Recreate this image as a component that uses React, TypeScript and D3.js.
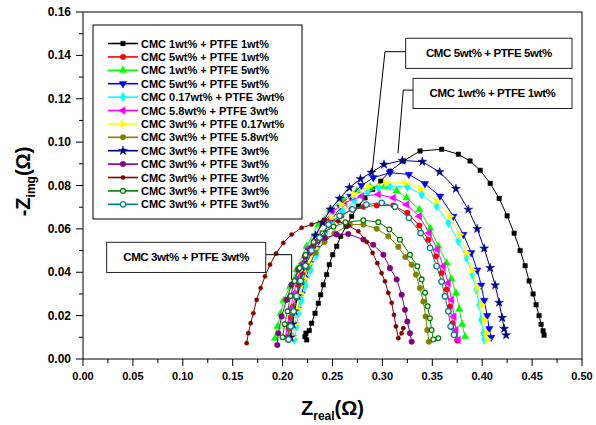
import React, { useEffect, useRef } from 'react';
import * as d3 from 'd3';

type Pt = [number, number];

const xTicks = [0, 0.05, 0.1, 0.15, 0.2, 0.25, 0.3, 0.35, 0.4, 0.45, 0.5];
const yTicks = [0, 0.02, 0.04, 0.06, 0.08, 0.1, 0.12, 0.14, 0.16];

const seriesNames = [
  'CMC 1wt% + PTFE 1wt%',
  'CMC 5wt% + PTFE 1wt%',
  'CMC 1wt% + PTFE 5wt%',
  'CMC 5wt% + PTFE 5wt%',
  'CMC 0.17wt% + PTFE 3wt%',
  'CMC 5.8wt% + PTFE 3wt%',
  'CMC 3wt% + PTFE 0.17wt%',
  'CMC 3wt% + PTFE 5.8wt%',
  'CMC 3wt% + PTFE 3wt%',
  'CMC 3wt% + PTFE 3wt%',
  'CMC 3wt% + PTFE 3wt%',
  'CMC 3wt% + PTFE 3wt%',
  'CMC 3wt% + PTFE 3wt%',
];

const seriesColors = [
  '#000000', '#ff0000', '#00ff00', '#0000ff', '#00ffff', '#ff00ff', '#ffff00',
  '#808000', '#000080', '#800080', '#800000', '#008000', '#008080',
];

// marker kind per series
const seriesMarkers = [
  'square', 'circle', 'up', 'down', 'diamond', 'left', 'right',
  'circle', 'star', 'circle', 'smallCircle', 'open', 'openBig',
];

const black1_1: Pt[] = [
  [0.2241, 0.0088], [0.2224, 0.0103], [0.2234, 0.0119], [0.2267, 0.0131], [0.2291, 0.0165],
  [0.2325, 0.0211], [0.2358, 0.0257], [0.2381, 0.0296], [0.2408, 0.0342], [0.2441, 0.0389],
  [0.2468, 0.0435], [0.2502, 0.0481], [0.2542, 0.052], [0.2582, 0.0566], [0.2635, 0.0612],
  [0.2692, 0.0658], [0.2759, 0.0705], [0.2826, 0.0743], [0.2903, 0.0782], [0.2983, 0.082],
  [0.3076, 0.0866], [0.321, 0.0913], [0.3377, 0.0959], [0.3594, 0.0967], [0.3761, 0.0944],
  [0.3878, 0.0913], [0.398, 0.087], [0.408, 0.081], [0.417, 0.074], [0.425, 0.066],
  [0.432, 0.058], [0.438, 0.05], [0.443, 0.043], [0.447, 0.036], [0.451, 0.03],
  [0.454, 0.025], [0.457, 0.02], [0.459, 0.016], [0.461, 0.013], [0.462, 0.011],
];

const red5_1: Pt[] = [
  [0.205, 0.01], [0.206, 0.014], [0.208, 0.019], [0.21, 0.024], [0.213, 0.029],
  [0.216, 0.034], [0.22, 0.039], [0.224, 0.044], [0.229, 0.049], [0.235, 0.054],
  [0.242, 0.058], [0.25, 0.062], [0.259, 0.066], [0.269, 0.069], [0.281, 0.0702],
  [0.2943, 0.0708], [0.3109, 0.0708], [0.325, 0.0674], [0.337, 0.0615], [0.346, 0.055],
  [0.3537, 0.0474], [0.3594, 0.0397], [0.3644, 0.032], [0.3677, 0.0242], [0.3704, 0.0165],
  [0.3727, 0.0111], [0.375, 0.0085],
];

const green1_5: Pt[] = [
  [0.1924, 0.0096], [0.195, 0.015], [0.198, 0.021], [0.201, 0.027], [0.2074, 0.0335],
  [0.214, 0.0412], [0.2241, 0.052], [0.2358, 0.062], [0.2475, 0.069], [0.2608, 0.0735],
  [0.2745, 0.0775], [0.2876, 0.0794], [0.302, 0.0795], [0.3143, 0.0775], [0.3243, 0.0743],
  [0.337, 0.0689], [0.3477, 0.0604], [0.356, 0.052], [0.3643, 0.0443], [0.369, 0.037],
  [0.3737, 0.0304], [0.377, 0.023], [0.38, 0.016], [0.3828, 0.0103],
];

const blue5_5: Pt[] = [
  [0.21, 0.01], [0.212, 0.016], [0.215, 0.023], [0.219, 0.03], [0.223, 0.037],
  [0.228, 0.044], [0.234, 0.051], [0.241, 0.058], [0.249, 0.064], [0.258, 0.07],
  [0.268, 0.075], [0.279, 0.08], [0.2909, 0.0836], [0.3075, 0.0859], [0.3265, 0.0851],
  [0.3426, 0.0808], [0.3577, 0.0751], [0.3711, 0.0658], [0.3811, 0.0574], [0.389, 0.049],
  [0.395, 0.041], [0.399, 0.034], [0.402, 0.027], [0.405, 0.02], [0.407, 0.014], [0.409, 0.01],
];

const cyan017_3: Pt[] = [
  [0.212, 0.009], [0.214, 0.015], [0.216, 0.021], [0.219, 0.027], [0.223, 0.034],
  [0.228, 0.041], [0.234, 0.048], [0.241, 0.055], [0.25, 0.062], [0.26, 0.068],
  [0.272, 0.073], [0.285, 0.077], [0.296, 0.079], [0.3075, 0.0797], [0.325, 0.0794],
  [0.3393, 0.0759], [0.3543, 0.0705], [0.3661, 0.0628], [0.3761, 0.0543], [0.3844, 0.0466],
  [0.39, 0.039], [0.394, 0.032], [0.397, 0.025], [0.399, 0.018], [0.401, 0.012], [0.402, 0.009],
];

const magenta58_3: Pt[] = [
  [0.203, 0.01], [0.205, 0.016], [0.208, 0.023], [0.211, 0.03], [0.215, 0.037],
  [0.22, 0.044], [0.226, 0.051], [0.233, 0.057], [0.241, 0.063], [0.25, 0.068],
  [0.262, 0.072], [0.2792, 0.0751], [0.2959, 0.0759], [0.3109, 0.0743], [0.3243, 0.0712],
  [0.337, 0.0658], [0.347, 0.0581], [0.355, 0.0505], [0.361, 0.0428], [0.366, 0.035],
  [0.3694, 0.0273], [0.3717, 0.0196], [0.3737, 0.0134], [0.376, 0.0088],
];

const yellow3_017: Pt[] = [
  [0.21, 0.01], [0.212, 0.016], [0.215, 0.023], [0.218, 0.03], [0.222, 0.037],
  [0.227, 0.044], [0.233, 0.051], [0.24, 0.058], [0.249, 0.065], [0.259, 0.071],
  [0.271, 0.076], [0.286, 0.0795], [0.3043, 0.0812], [0.3227, 0.0812], [0.3383, 0.0785],
  [0.3543, 0.0728], [0.3677, 0.0658], [0.3777, 0.0574], [0.3844, 0.0489], [0.39, 0.041],
  [0.395, 0.033], [0.399, 0.025], [0.402, 0.018], [0.404, 0.012], [0.405, 0.009],
];

const olive3_58: Pt[] = [
  [0.205, 0.009], [0.207, 0.015], [0.21, 0.021], [0.214, 0.028], [0.219, 0.035],
  [0.225, 0.042], [0.233, 0.049], [0.242, 0.054], [0.252, 0.058], [0.2675, 0.062],
  [0.2809, 0.062], [0.2943, 0.0601], [0.3059, 0.0566], [0.316, 0.0517], [0.323, 0.047],
  [0.3293, 0.0435], [0.3336, 0.0389], [0.3376, 0.0327], [0.341, 0.0265], [0.3433, 0.0196],
  [0.345, 0.0134], [0.3466, 0.008],
];

const navy3_3: Pt[] = [
  [0.208, 0.01], [0.21, 0.016], [0.212, 0.022], [0.215, 0.029], [0.218, 0.036],
  [0.222, 0.043], [0.227, 0.05], [0.233, 0.057], [0.24, 0.063], [0.248, 0.069],
  [0.257, 0.074], [0.267, 0.079], [0.278, 0.083], [0.289, 0.086], [0.3016, 0.0897],
  [0.32, 0.0915], [0.34, 0.091], [0.3574, 0.0862], [0.3737, 0.0785], [0.3861, 0.0689],
  [0.395, 0.06], [0.402, 0.051], [0.408, 0.042], [0.413, 0.034], [0.417, 0.026],
  [0.42, 0.019], [0.422, 0.014], [0.424, 0.011],
];

const purple3_3: Pt[] = [
  [0.1947, 0.0065], [0.1957, 0.0119], [0.199, 0.0196], [0.204, 0.0273], [0.209, 0.0342],
  [0.2157, 0.0412], [0.2225, 0.0472], [0.2308, 0.052], [0.2425, 0.0558], [0.2542, 0.0574],
  [0.2658, 0.0576], [0.2809, 0.0551], [0.2908, 0.0527], [0.301, 0.0481], [0.3076, 0.0419],
  [0.3143, 0.0367], [0.3193, 0.0296], [0.3226, 0.0227], [0.325, 0.0173], [0.3276, 0.0119],
  [0.3293, 0.008],
];

const darkred3_3: Pt[] = [
  [0.164, 0.0073], [0.1657, 0.0119], [0.168, 0.0165], [0.1707, 0.0211], [0.174, 0.0273],
  [0.178, 0.0327], [0.1824, 0.0381], [0.1874, 0.0435], [0.1934, 0.0486], [0.2007, 0.0535],
  [0.209, 0.0574], [0.2191, 0.0605], [0.2291, 0.062], [0.2425, 0.0643], [0.2558, 0.0635],
  [0.266, 0.0615], [0.2759, 0.0589], [0.2843, 0.054], [0.2902, 0.0489], [0.2949, 0.0442],
  [0.2992, 0.0396], [0.3026, 0.0358], [0.3059, 0.0305], [0.3093, 0.0259], [0.3116, 0.0203],
  [0.3136, 0.015], [0.316, 0.0096], [0.3193, 0.0119], [0.321, 0.0142],
];

const green3_3: Pt[] = [
  [0.2, 0.01], [0.202, 0.016], [0.205, 0.022], [0.208, 0.029], [0.212, 0.036],
  [0.217, 0.042], [0.223, 0.048], [0.231, 0.054], [0.24, 0.058], [0.251, 0.061],
  [0.263, 0.063], [0.2809, 0.064], [0.2959, 0.0631], [0.307, 0.0597], [0.3176, 0.055],
  [0.3276, 0.0481], [0.335, 0.0428], [0.3393, 0.0367], [0.3427, 0.0305], [0.3453, 0.0243],
  [0.3476, 0.0188], [0.3493, 0.0134], [0.351, 0.009], [0.356, 0.0096],
];

const teal3_3: Pt[] = [
  [0.206, 0.009], [0.208, 0.015], [0.211, 0.022], [0.214, 0.029], [0.218, 0.036],
  [0.223, 0.043], [0.229, 0.05], [0.237, 0.056], [0.246, 0.062], [0.257, 0.066],
  [0.27, 0.069], [0.284, 0.0712], [0.2993, 0.072], [0.3126, 0.0702], [0.3266, 0.0651],
  [0.3383, 0.0581], [0.3477, 0.0512], [0.3543, 0.0428], [0.3593, 0.0357], [0.3627, 0.0289],
  [0.366, 0.022], [0.3684, 0.015], [0.3717, 0.0111],
];

const seriesData: Pt[][] = [
  black1_1, red5_1, green1_5, blue5_5, cyan017_3, magenta58_3, yellow3_017,
  olive3_58, navy3_3, purple3_3, darkred3_3, green3_3, teal3_3,
];

// callout labels, boxes [x0, x1, yTop, yBottom] and leader lines, in data units
const calloutLabels = ['CMC 5wt% + PTFE 5wt%', 'CMC 1wt% + PTFE 1wt%', 'CMC 3wt% + PTFE 3wt%'];
const calloutBoxes = [
  [0.3233, 0.49, 0.1479, 0.134],
  [0.3307, 0.49, 0.1294, 0.1155],
  [0.0237, 0.1831, 0.0538, 0.0399],
];
const calloutLeaders: Pt[][] = [
  [[0.3233, 0.1417], [0.3026, 0.1417], [0.2896, 0.086]],
  [[0.3307, 0.124], [0.3209, 0.124], [0.3156, 0.0948]],
  [[0.1831, 0.0481], [0.2091, 0.0481], [0.2091, 0.0365]],
];

const FONT = "Arial, 'Liberation Sans', sans-serif";

const symbolPath = (kind: string): string => {
  const sym = d3.symbol();
  switch (kind) {
    case 'square': return sym.type(d3.symbolSquare).size(20)() as string;
    case 'circle': return sym.type(d3.symbolCircle).size(24)() as string;
    case 'smallCircle': return sym.type(d3.symbolCircle).size(14)() as string;
    case 'open': return sym.type(d3.symbolCircle).size(18)() as string;
    case 'openBig': return sym.type(d3.symbolCircle).size(24)() as string;
    case 'diamond': return sym.type(d3.symbolDiamond).size(26)() as string;
    case 'star': return sym.type(d3.symbolStar).size(24)() as string;
    default: return sym.type(d3.symbolTriangle).size(24)() as string;
  }
};

const symbolRotation = (kind: string): number => {
  if (kind === 'down') return 180;
  if (kind === 'left') return -90;
  if (kind === 'right') return 90;
  return 0;
};

const App = () => {
  const svgRef = useRef<SVGSVGElement | null>(null);

  useEffect(() => {
    if (!svgRef.current) return;
    const root = d3.select(svgRef.current);
    root.selectAll('*').remove();

    const W = 596;
    const H = 425;
    const margin = { top: 12, right: 14, bottom: 66, left: 83 };
    const width = W - margin.left - margin.right;
    const height = H - margin.top - margin.bottom;

    const x = d3.scaleLinear().domain([0, 0.5]).range([0, width]);
    const y = d3.scaleLinear().domain([0, 0.16]).range([height, 0]);

    const svg = root.append('g').attr('transform', `translate(${margin.left},${margin.top})`);

    // frame
    svg.append('rect')
      .attr('x', 0).attr('y', 0).attr('width', width).attr('height', height)
      .attr('fill', 'none').attr('stroke', '#000').attr('stroke-width', 1);

    // x axis with minor ticks
    const xMinor = d3.range(0, 0.5001, 0.025);
    svg.append('g').selectAll('line').data(xMinor).enter().append('line')
      .attr('x1', d => x(d)).attr('x2', d => x(d))
      .attr('y1', height).attr('y2', (d, i) => height + (i % 2 === 0 ? 7 : 4))
      .attr('stroke', '#000');
    svg.append('g').selectAll('text').data(xTicks).enter().append('text')
      .attr('x', d => x(d)).attr('y', height + 21)
      .attr('text-anchor', 'middle')
      .style('font-family', FONT).style('font-size', '11px').style('font-weight', 'bold')
      .text(d => d.toFixed(2));

    // y axis with minor ticks
    const yMinor = d3.range(0, 0.1601, 0.01);
    svg.append('g').selectAll('line').data(yMinor).enter().append('line')
      .attr('y1', d => y(d)).attr('y2', d => y(d))
      .attr('x1', 0).attr('x2', (d, i) => (i % 2 === 0 ? -7 : -4))
      .attr('stroke', '#000');
    svg.append('g').selectAll('text').data(yTicks).enter().append('text')
      .attr('x', -12).attr('y', d => y(d) + 4)
      .attr('text-anchor', 'end')
      .style('font-family', FONT).style('font-size', '12px').style('font-weight', 'bold')
      .text(d => d.toFixed(2));

    // axis titles
    const xt = svg.append('text')
      .attr('x', width / 2).attr('y', height + 56)
      .attr('text-anchor', 'middle')
      .style('font-family', FONT).style('font-weight', 'bold').style('font-size', '20px');
    xt.append('tspan').text('Z');
    xt.append('tspan').attr('dy', 5).style('font-size', '12px').text('real');
    xt.append('tspan').attr('dy', -5).text('(Ω)');

    const yt = svg.append('text')
      .attr('transform', `translate(${-margin.left + 30},${height / 2 - 4}) rotate(-90)`)
      .attr('text-anchor', 'middle')
      .style('font-family', FONT).style('font-weight', 'bold').style('font-size', '20px');
    yt.append('tspan').text('-Z');
    yt.append('tspan').attr('dy', 5).style('font-size', '12px').text('img');
    yt.append('tspan').attr('dy', -5).text('(Ω)');

    // series
    const line = d3.line<Pt>().x(d => x(d[0])).y(d => y(d[1]));

    const drawMarker = (g: any, kind: string, color: string, cx: number, cy: number) => {
      const open = kind === 'open' || kind === 'openBig';
      g.append('path')
        .attr('d', symbolPath(kind))
        .attr('transform', `translate(${cx},${cy}) rotate(${symbolRotation(kind)})`)
        .attr('fill', open ? '#fff' : color)
        .attr('stroke', color)
        .attr('stroke-width', open ? 1.3 : 0.5);
    };

    seriesData.forEach((pts, i) => {
      const g = svg.append('g');
      g.append('path')
        .datum(pts)
        .attr('fill', 'none')
        .attr('stroke', seriesColors[i])
        .attr('stroke-width', 1)
        .attr('d', line);
      pts.forEach(p => drawMarker(g, seriesMarkers[i], seriesColors[i], x(p[0]), y(p[1])));
    });

    // legend
    const legend = svg.append('g').attr('transform', `translate(${93 - margin.left},${25 - margin.top})`);
    legend.append('rect')
      .attr('x', 0).attr('y', 0).attr('width', 209).attr('height', 194)
      .attr('fill', '#fff').attr('stroke', '#000').attr('stroke-width', 1);
    seriesNames.forEach((name, i) => {
      const row = legend.append('g').attr('transform', `translate(0,${18.5 + i * 13.4})`);
      row.append('line')
        .attr('x1', 15).attr('x2', 45).attr('y1', 0).attr('y2', 0)
        .attr('stroke', seriesColors[i]).attr('stroke-width', 1.6);
      drawMarker(row, seriesMarkers[i], seriesColors[i], 30, 0);
      row.append('text')
        .attr('x', 48).attr('y', 4)
        .style('font-family', FONT).style('font-size', '11px').style('font-weight', 'bold')
        .text(name);
    });

    // callouts
    calloutLabels.forEach((label, i) => {
      const [x0, x1, yTop, yBot] = calloutBoxes[i];
      svg.append('path')
        .datum(calloutLeaders[i])
        .attr('fill', 'none').attr('stroke', '#000').attr('stroke-width', 1)
        .attr('d', line);
      svg.append('rect')
        .attr('x', x(x0)).attr('y', y(yTop))
        .attr('width', x(x1) - x(x0)).attr('height', y(yBot) - y(yTop))
        .attr('fill', '#fff').attr('stroke', '#222').attr('stroke-width', 1);
      svg.append('text')
        .attr('x', (x(x0) + x(x1)) / 2).attr('y', (y(yTop) + y(yBot)) / 2 + 4)
        .attr('text-anchor', 'middle')
        .style('font-family', FONT).style('font-size', '11.5px').style('font-weight', 'bold')
        .style('letter-spacing', '-0.4px')
        .text(label);
    });
  }, []);

  return (
    <svg
      ref={svgRef}
      width={596}
      height={425}
      style={{ position: 'absolute', left: 0, top: 0, background: '#fff' }}
    />
  );
};

export default App;
